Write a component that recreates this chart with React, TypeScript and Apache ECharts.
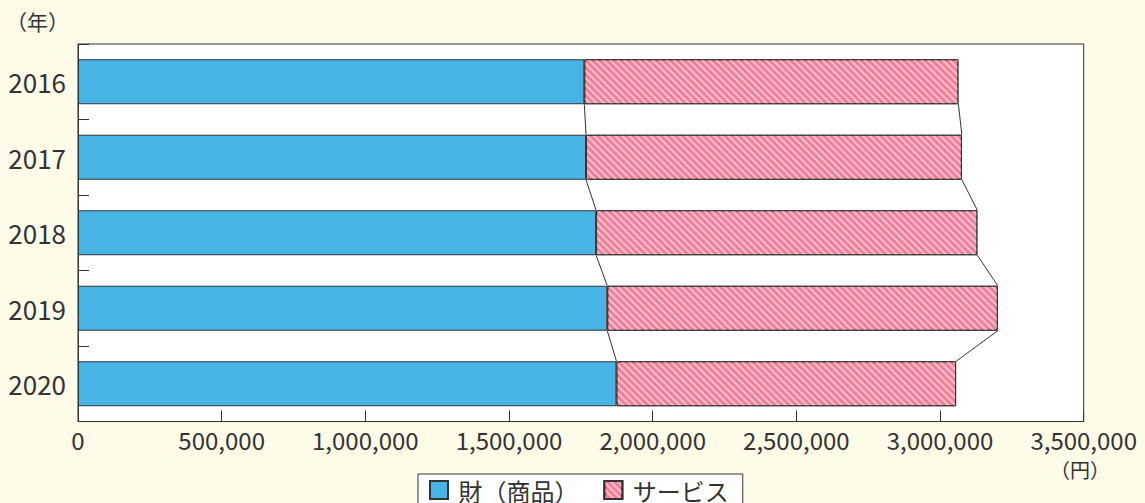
import React, { useEffect, useRef } from "react";
import * as echarts from "echarts";

const years = ["2016", "2017", "2018", "2019", "2020"];
const goods = [1762000, 1768000, 1803000, 1842000, 1874000];
const totals = [3064000, 3076000, 3130000, 3201000, 3056000];
const services = totals.map((t, i) => t - goods[i]);
const xTicks = { min: 0, max: 3500000, interval: 500000 };
const legendNames = ["財（商品）", "サービス"];

const FONT = "'Noto Sans CJK JP', 'Noto Sans', sans-serif";
const BAR_RATIO = 0.596;
const INK = "#333333";

export default function App() {
  const ref = useRef<HTMLDivElement>(null);
  useEffect(() => {
    const chart = echarts.init(ref.current!, null, { renderer: "svg" });
    const connectorData = years.slice(0, years.length - 1).map((_, i) => [goods[i], i]);
    chart.setOption({
      animation: false,
      backgroundColor: "#FEFBE9",
      textStyle: { fontFamily: FONT },
      grid: {
        left: 78,
        right: 61.3,
        top: 44,
        bottom: 81.5,
        show: true,
        backgroundColor: "#ffffff",
        borderColor: INK,
        borderWidth: 1,
      },
      legend: {
        data: legendNames,
        top: 474,
        left: 418,
        icon: "rect",
        padding: [4, 14, 10, 11],
        itemWidth: 18,
        itemHeight: 18,
        itemGap: 25,
        backgroundColor: "#ffffff",
        borderColor: INK,
        borderWidth: 1,
        borderRadius: 0,
        formatter: (name: string) => " " + name,
        textStyle: { fontSize: 24, color: INK, fontFamily: FONT },
      },
      xAxis: {
        type: "value",
        min: xTicks.min,
        max: xTicks.max,
        interval: xTicks.interval,
        axisLine: { show: true, lineStyle: { color: INK } },
        axisTick: { show: true, inside: true, length: 11, lineStyle: { color: INK } },
        splitLine: { show: false },
        axisLabel: {
          fontSize: 24,
          color: INK,
          margin: 6,
          fontFamily: FONT,
          formatter: (v: number) => v.toLocaleString("en-US"),
        },
      },
      yAxis: {
        type: "category",
        data: years,
        inverse: true,
        axisLine: { show: true, lineStyle: { color: INK } },
        axisTick: { show: true, inside: true, length: 11, lineStyle: { color: INK } },
        axisLabel: { fontSize: 26, color: INK, margin: 12, fontFamily: FONT },
      },
      graphic: [
        {
          type: "text",
          left: 6,
          top: 10,
          style: { text: "（年）", fontSize: 21, fill: INK, fontFamily: FONT },
        },
        {
          type: "text",
          left: 1050,
          top: 459,
          style: { text: "（円）", fontSize: 20, fill: INK, fontFamily: FONT },
        },
      ],
      series: [
        {
          name: legendNames[0],
          type: "bar",
          stack: "total",
          data: goods,
          barCategoryGap: "40.4%",
          itemStyle: { color: "#47B4E6", borderColor: INK, borderWidth: 1 },
        },
        {
          name: legendNames[1],
          type: "bar",
          stack: "total",
          data: services,
          barCategoryGap: "40.4%",
          itemStyle: {
            color: "#F08099",
            borderColor: INK,
            borderWidth: 1,
            decal: {
              symbol: "rect",
              symbolSize: 1,
              color: "#FAC0CC",
              dashArrayX: [1, 0],
              dashArrayY: [2, 3],
              rotation: Math.PI / 4,
            },
          },
        },
        {
          type: "custom",
          silent: true,
          z: 5,
          data: connectorData,
          renderItem: (params: any, api: any) => {
            const i = params.dataIndex;
            const band = api.size([0, 1])[1];
            const half = (band * BAR_RATIO) / 2;
            const g1 = api.coord([goods[i], i]);
            const g2 = api.coord([goods[i + 1], i + 1]);
            const t1 = api.coord([totals[i], i]);
            const t2 = api.coord([totals[i + 1], i + 1]);
            const style = { stroke: INK, lineWidth: 1 };
            return {
              type: "group",
              children: [
                { type: "line", shape: { x1: g1[0], y1: g1[1] + half, x2: g2[0], y2: g2[1] - half }, style },
                { type: "line", shape: { x1: t1[0], y1: t1[1] + half, x2: t2[0], y2: t2[1] - half }, style },
              ],
            };
          },
        },
      ],
    });
    return () => chart.dispose();
  }, []);
  return (
    <div
      ref={ref}
      style={{ position: "absolute", left: 0, top: 0, width: 1145, height: 503 }}
    />
  );
}
